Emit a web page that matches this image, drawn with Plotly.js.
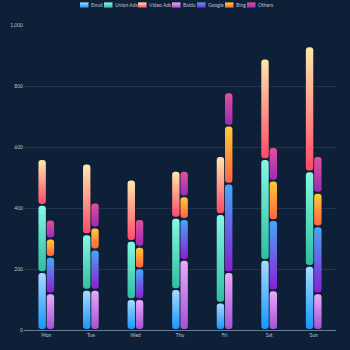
<!DOCTYPE html>
<html>
<head>
<meta charset="utf-8">
<script src="https://cdn.plot.ly/plotly-3.0.1.min.js"></script>
<style>html,body{margin:0;padding:0;background:#0e1f38;}#chart{width:350px;height:350px;}</style>
</head>
<body>
<div id="chart"></div>
<script>
// ---- data ----
const days = ['Mon','Tue','Wed','Thu','Fri','Sat','Sun'];
const email    = [190,132,101,134, 90,230,210];
const unionAds = [220,182,191,234,290,330,310];
const videoAds = [150,232,201,154,190,330,410];
const baidu    = [120,132,101,230,190,130,120];
const google   = [120,132,101,134,290,230,220];
const bing     = [ 60, 72, 71, 74,190,130,110];
const others   = [ 62, 82, 91, 84,109,110,120];
const seriesNames = ['Email','Union Ads','Video Ads','Baidu','Google','Bing','Others'];
const yTicks = [0,200,400,600,800,1000];

// ---- style ----
const BG = '#0e1f38';
const colors = { // [bottom, top]
  'Email':     ['#1797fb','#a9d9ff'],
  'Union Ads': ['#2fbf9f','#86f7e4'],
  'Video Ads': ['#ff4a68','#ffe8ac'],
  'Baidu':     ['#a452d6','#e8aaf8'],
  'Google':    ['#8b1ed4','#45a8f7'],
  'Bing':      ['#ff6340','#ffcb36'],
  'Others':    ['#9c2bb6','#e2509a']
};
function hex2rgb(h){h=h.replace('#','');return [0,2,4].map(i=>parseInt(h.substr(i,2),16));}
function mix(a,b){const A=hex2rgb(a),B=hex2rgb(b);return 'rgb('+A.map((v,i)=>Math.round((v+B[i])/2)).join(',')+')';}

const groups = [
  {series:[['Email',email],['Union Ads',unionAds],['Video Ads',videoAds]], offset:-0.176},
  {series:[['Baidu',baidu],['Google',google],['Bing',bing],['Others',others]], offset:0.01}
];
const BW = 0.166, GAP = 3;

const traces = [];
const gradInfo = []; // per trace: [bottom, top]
groups.forEach(g=>{
  const cum = days.map(()=>0);
  g.series.forEach(([name,vals])=>{
    const lo = cum.slice();
    const [cb,ct] = colors[name];
    traces.push({type:'bar', x:days, base:lo.map(l=>l+GAP), y:vals.map(v=>v-2*GAP),
      width:BW, offset:g.offset, name:name, showlegend:false, hoverinfo:'skip',
      marker:{color:mix(cb,ct), cornerradius:'50%', line:{width:0}}});
    gradInfo.push([cb,ct]);
    for(let i=0;i<cum.length;i++) cum[i]+=vals[i];
  });
});

// ---- custom legend (annotations + shapes) ----
const L=24, R=336, T=25, B=330;
const px2x = p => (p-L)/(R-L);
const px2y = p => (B-p)/(B-T);
const iconX = [80,104,138,172,197,225,247];
const FS = 5;
const shapes = [], annotations = [];
seriesNames.forEach((n,i)=>{
  shapes.push({type:'rect', xref:'paper', yref:'paper', layer:'above',
    x0:px2x(iconX[i]), x1:px2x(iconX[i]+8.5), y0:px2y(7.6), y1:px2y(2.4),
    fillcolor:mix(colors[n][0],colors[n][1]), line:{width:0}});
  annotations.push({text:n, xref:'paper', yref:'paper', x:px2x(iconX[i]+9.8), y:px2y(5.2),
    xanchor:'left', yanchor:'middle', showarrow:false, borderpad:0,
    font:{size:FS, color:'#b7c3d3', family:'Lato, Noto Sans, sans-serif'}});
});

const layout = {
  width:350, height:350,
  paper_bgcolor:BG, plot_bgcolor:BG,
  margin:{l:L, r:350-R, t:T, b:350-B},
  barmode:'overlay',
  showlegend:false,
  font:{family:'Lato, Noto Sans, sans-serif', size:FS, color:'#b7c3d3'},
  xaxis:{type:'category', range:[-0.5,6.5], showgrid:false, zeroline:false,
    showline:true, linecolor:'#6a7c92', linewidth:1, ticks:'', ticklen:0,
    tickfont:{size:FS, color:'#b7c3d3'}, fixedrange:true},
  yaxis:{range:[0,1000], tickvals:yTicks, tickformat:',', showgrid:true,
    gridcolor:'#1f3552', gridwidth:1, zeroline:false, showline:false, ticks:'',
    tickfont:{size:FS, color:'#b7c3d3'}, fixedrange:true},
  shapes:shapes, annotations:annotations
};

Plotly.newPlot('chart', traces, layout, {staticPlot:true, displayModeBar:false}).then(gd=>{
  const NS='http://www.w3.org/2000/svg';
  const svg = gd.querySelector('svg.main-svg');
  let defs = svg.querySelector('defs');
  if(!defs){defs=document.createElementNS(NS,'defs');svg.insertBefore(defs,svg.firstChild);}
  function mk(id,c0,c1){ // c0 bottom, c1 top
    const lg=document.createElementNS(NS,'linearGradient');
    lg.setAttribute('id',id);
    lg.setAttribute('x1','0');lg.setAttribute('y1','1');lg.setAttribute('x2','0');lg.setAttribute('y2','0');
    [[0,c0],[1,c1]].forEach(([o,c])=>{const s=document.createElementNS(NS,'stop');
      s.setAttribute('offset',o);s.setAttribute('stop-color',c);lg.appendChild(s);});
    defs.appendChild(lg);
  }
  const traceGroups = gd.querySelectorAll('.barlayer .trace');
  traceGroups.forEach((tg,i)=>{
    const id='bargrad'+i; mk(id,gradInfo[i][0],gradInfo[i][1]);
    tg.querySelectorAll('path').forEach(p=>{p.style.fill='url(#'+id+')';});
  });
  const sp = gd.querySelectorAll('.layer-above .shapelayer path');
  sp.forEach((p,i)=>{
    const n=seriesNames[i]; if(!n) return;
    const id='leggrad'+i; mk(id,colors[n][0],colors[n][1]);
    p.style.fill='url(#'+id+')';
  });
});
</script>
</body>
</html>
